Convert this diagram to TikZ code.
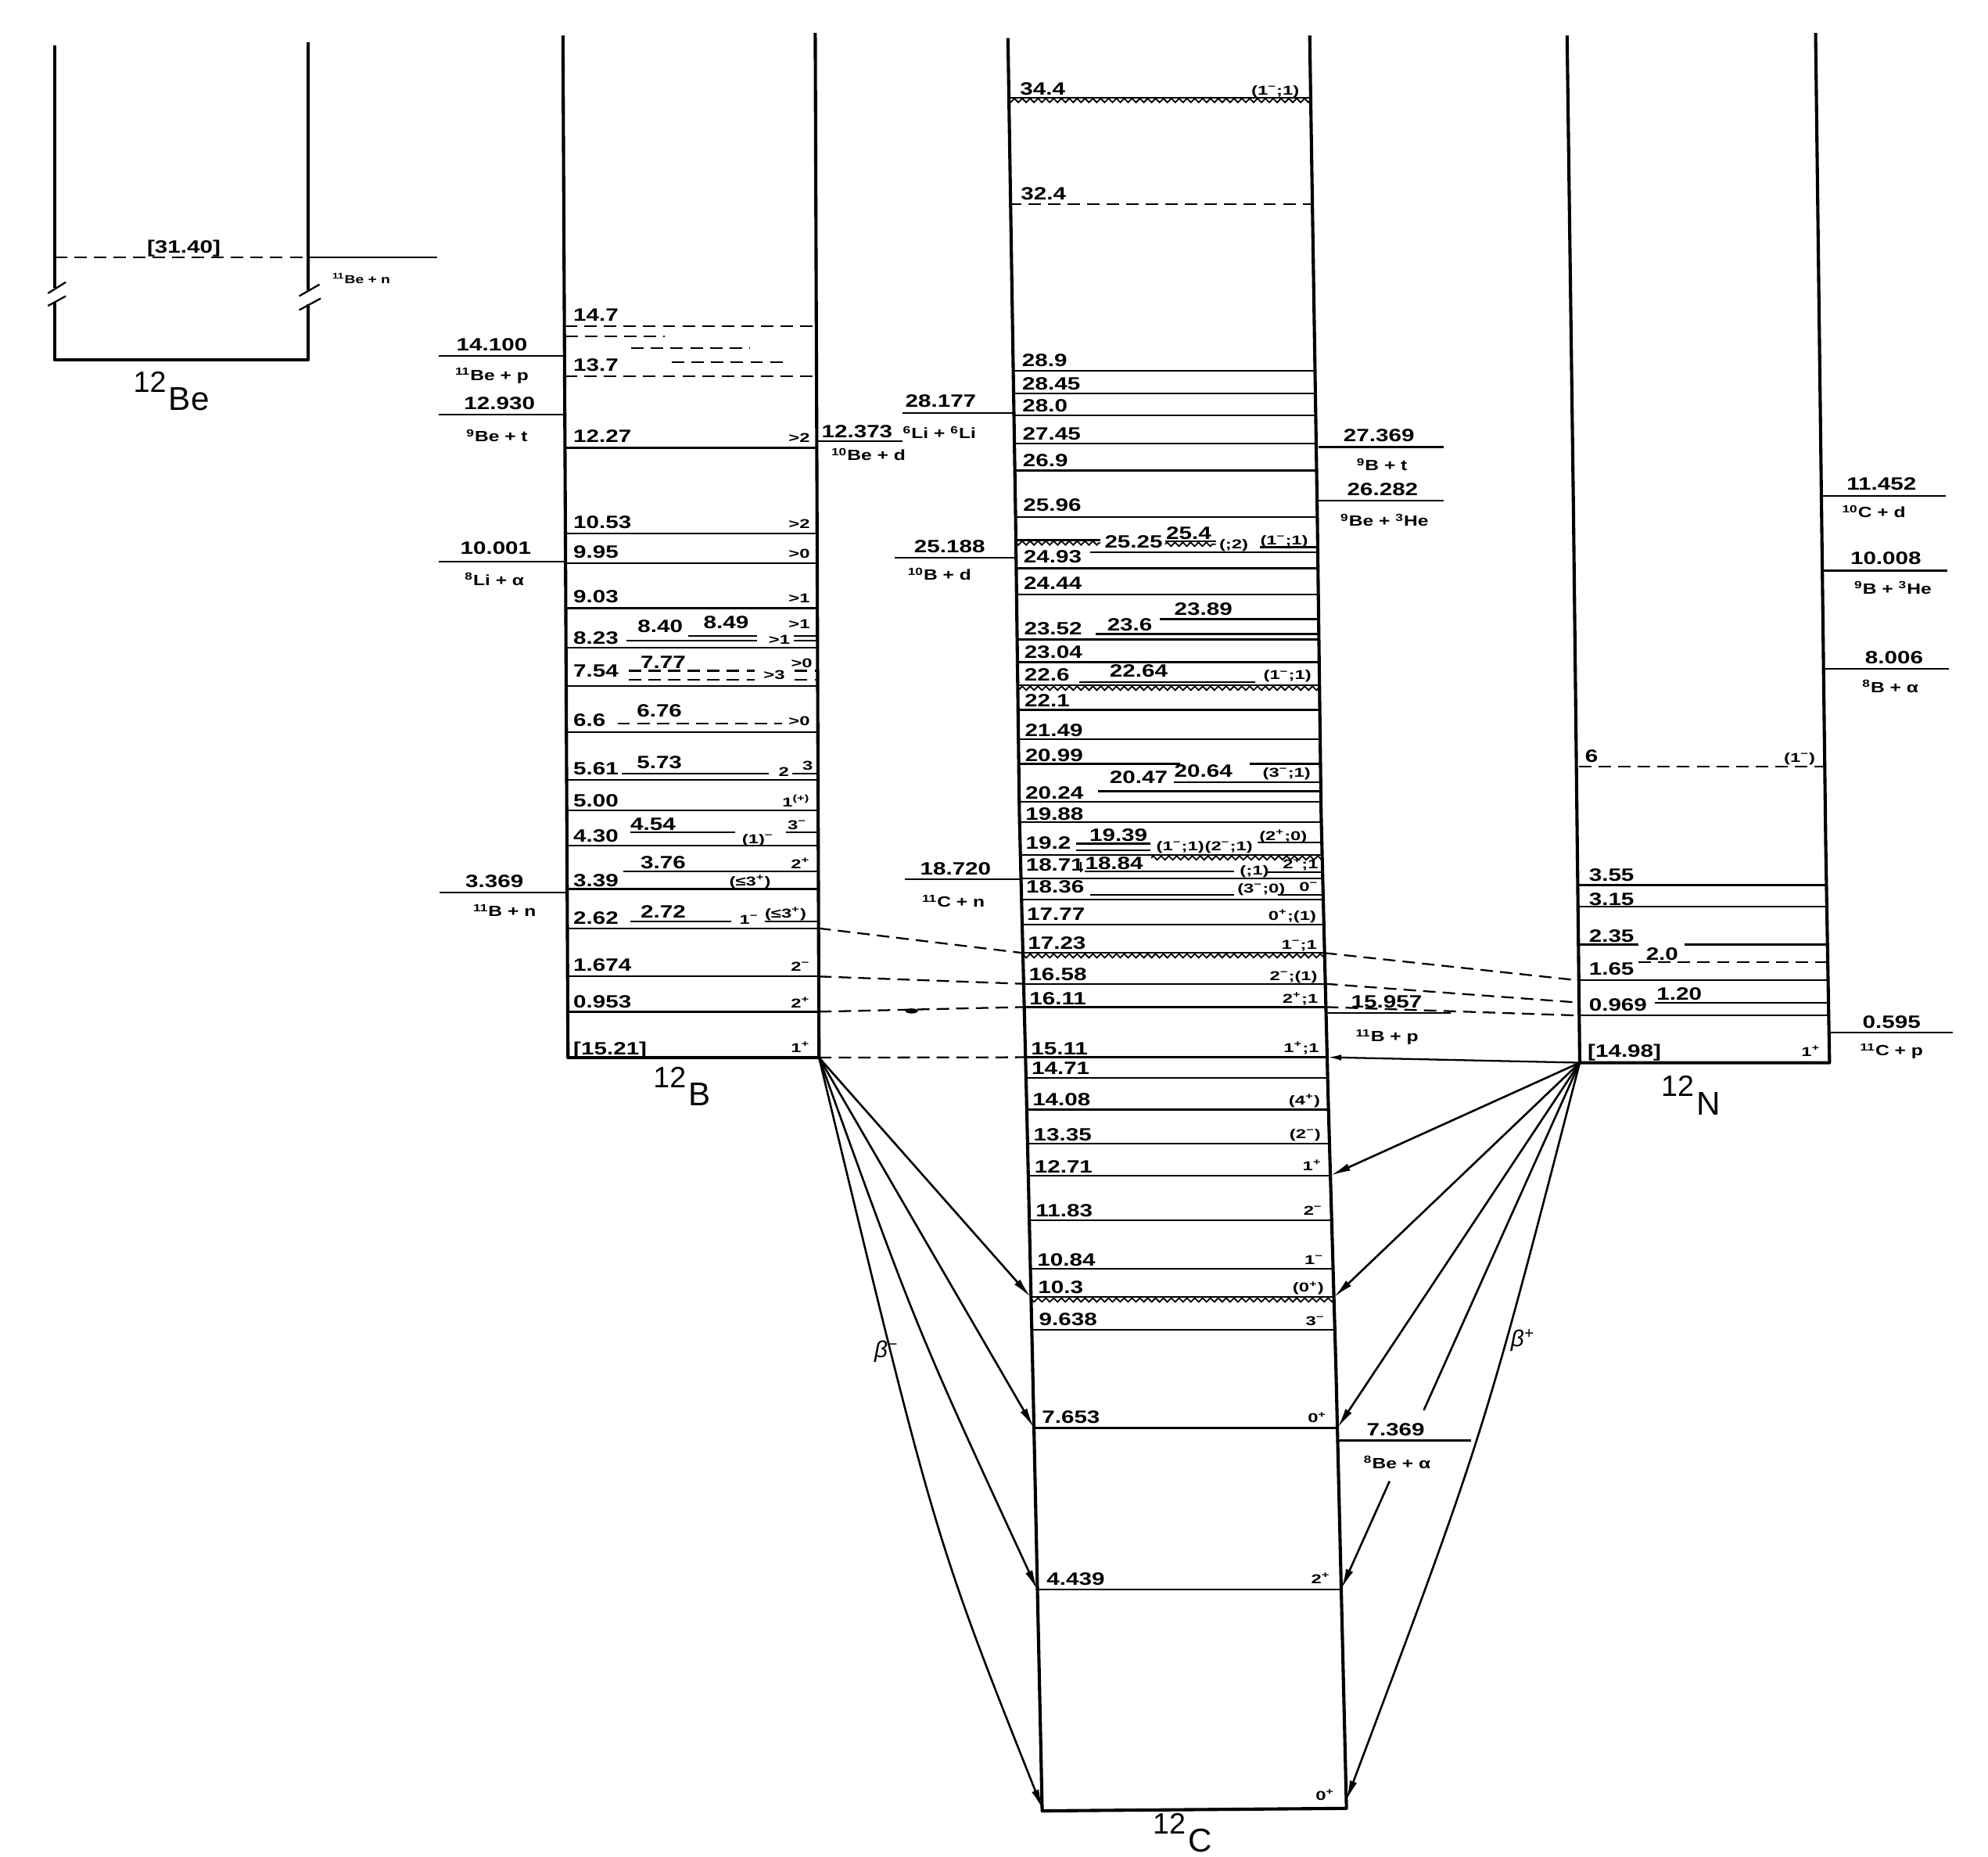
\documentclass[tikz,border=0pt]{standalone}
\usepackage{fontspec}
\setmainfont{Liberation Sans}
\newfontfamily\lf{Liberation Sans}[FakeStretch=1.3]
\newfontfamily\spf{Liberation Sans}[FakeStretch=1.45]
\usetikzlibrary{arrows.meta,decorations.pathmorphing}
\newcounter{nd}
\newcommand\su[1]{\textsuperscript{#1}}
\newcommand\sM{\su{−}}
\newcommand\sP{\su{+}}
\newcommand\TN[3][num]{\stepcounter{nd}\node[#1] (t\thend) at (#2) {#3};}
\newcommand\lbB[2]{\stepcounter{nd}\node[num] (t\thend) at (452,#1) {#2};}
\newcommand\spB[2]{\stepcounter{nd}\node[sp] (t\thend) at (639,#1) {#2};}
\newcommand\lbC[2]{\stepcounter{nd}\node[num] (t\thend) at ({#1<700 ? 804+0.0075*(#1-37) : 809+0.0297*(#1-700)},#1) {#2};}
\newcommand\spC[2]{\stepcounter{nd}\node[sp] (t\thend) at ({1024+0.0207*(#1-28)},#1) {#2};}
\newcommand\lnC[1]{\draw[lev] (780,#1) -- (1080,#1);}
\newcommand\wvC[1]{\draw[lev] (780,#1) -- (1080,#1);\draw[wv] (780,#1+2.2) -- (1080,#1+2.2);}
\newcommand\isolab[2]{{\fontsize{16.5}{16.5}\selectfont\raisebox{10.2pt}{#1}}\hspace{1.5pt}{\fontsize{18.5}{18.5}\selectfont #2}}
\tikzset{
 col/.style={line width=1.8pt, line join=round},
 lev/.style={line width=1.0pt},
 dl/.style={lev, dash pattern=on 7pt off 4pt},
 wv/.style={line width=0.8pt, decorate, decoration={zigzag, amplitude=1.1pt, segment length=4.4pt}},
 num/.style={font=\lf\bfseries\fontsize{10}{10}\selectfont, inner sep=0pt, anchor=base west},
 numc/.style={num, anchor=base},
 sp/.style={font=\spf\bfseries\fontsize{7.2}{7.2}\selectfont, inner sep=0pt, anchor=base east},
 spw/.style={sp, anchor=base west},
 rx/.style={font=\lf\bfseries\fontsize{8.3}{8.3}\selectfont, inner sep=0pt, anchor=base},
 rxs/.style={font=\lf\bfseries\fontsize{6.5}{6.5}\selectfont, inner sep=0pt, anchor=base west},
 iso/.style={inner sep=0pt, anchor=base west},
 beta/.style={font=\itshape\fontsize{13}{13}\selectfont, inner sep=0pt},
 ar/.style={line width=1.15pt, -{Latex[length=4mm,width=1.5mm]}},
 ars/.style={line width=1.0pt, -{Latex[length=2.6mm,width=1.2mm]}}
}
\begin{document}
\begin{tikzpicture}[x=0.25mm,y=-0.25mm]
\useasboundingbox (0,0) rectangle (1568,1464);

% ================= 12Be =================
\draw[col] (43,36) -- (43,227);
\draw[col] (43,239) -- (43,284) -- (243,284) -- (243,240);
\draw[col] (243,229) -- (243,33);
\draw[lev] (37.8,231.3) -- (51.9,222.5);
\draw[lev] (37.8,241.2) -- (51.9,233.5);
\draw[lev] (236,233.5) -- (252,224.3);
\draw[lev] (236,244.5) -- (253,235.3);
\draw[dl] (43,203) -- (243,203);
\draw[lev] (243,203) -- (345,203);
\TN[numc]{145,199.5}{[31.40]}
\TN[rxs]{262,223.6}{\su{11}Be + n}
\node[iso] (isoBe) at (105,323.8) {\isolab{12}{Be}};

% ================= 12B =================
\coordinate (B0) at (646,834);
\draw[col] (444,28) -- (448,834) -- (B0) -- (643,26);
\begin{scope}
\clip (444,28) -- (448,834) -- (646,834) -- (643,26) -- cycle;
\foreach \y in {353.2,420.5,444.1,479.5,510.9,540.8,577.4,614.8,639,666.6,701.1,732,770,797.8}
  \draw[lev] (430,\y) -- (660,\y);
\draw[dl] (430,257.4) -- (660,257.4);
\draw[dl] (446,265.2) -- (524,265.2);
\draw[dl] (498,274.5) -- (591,274.5);
\draw[dl] (530,285.4) -- (622,285.4);
\draw[dl] (430,296.5) -- (660,296.5);
\draw[lev] (543,501.7) -- (597,501.7);
\draw[lev] (494,505.4) -- (597,505.4);
\draw[lev] (626,501.7) -- (660,501.7);
\draw[lev] (626,505.4) -- (660,505.4);
\draw[dl] (496,529) -- (595,529);
\draw[dl] (496,536) -- (595,536);
\draw[dl] (627,529) -- (660,529);
\draw[dl] (627,536) -- (660,536);
\draw[dl] (487,570.6) -- (617,570.6);
\draw[lev] (490.6,610.2) -- (606.3,610.2);
\draw[lev] (625,610.2) -- (660,610.2);
\draw[lev] (497,656.3) -- (580,656.3);
\draw[lev] (620,656.3) -- (660,656.3);
\draw[lev] (491.6,687.1) -- (660,687.1);
\draw[lev] (497,726.8) -- (576.5,726.8);
\draw[lev] (603,726.8) -- (660,726.8);
\end{scope}
\lbB{253}{14.7}
\lbB{292.5}{13.7}
\lbB{349}{12.27} \spB{349}{>2}
\lbB{416.5}{10.53} \spB{416.5}{>2}
\lbB{440}{9.95} \spB{440}{>0}
\lbB{475.5}{9.03} \spB{475.5}{>1}
\lbB{508}{8.23} \TN{502.7,498.6}{8.40} \TN{554.6,495.5}{8.49} \spB{495.5}{>1} \TN[spw]{606,508}{>1}
\lbB{534}{7.54} \TN{505,527}{7.77} \TN[spw]{602,535.6}{>3} \TN[sp]{641,526.4}{>0}
\lbB{572.5}{6.6} \TN{502,565.4}{6.76} \spB{572}{>0}
\lbB{611}{5.61} \TN{502,606}{5.73} \TN[spw]{613.8,612}{2} \TN[spw]{632.7,607}{3}
\lbB{636}{5.00} \spB{636}{1\su{(+)}}
\lbB{664}{4.30} \TN{497,654.9}{4.54} \TN[spw]{585,665}{(1)\sM} \TN[spw]{621,654}{3\sM}
\lbB{699}{3.39} \TN{505,684.7}{3.76} \spB{684.7}{2\sP} \TN[spw]{575,698.5}{(≤3\sP)}
\lbB{729}{2.62} \TN{505,723.7}{2.72} \TN[spw]{583,729}{1\sM} \TN[spw]{603,724}{(≤3\sP)}
\lbB{766}{1.674} \spB{766}{2\sM}
\lbB{794.5}{0.953} \spB{794.5}{2\sP}
\lbB{831.5}{[15.21]} \spB{830}{1\sP}
\node[iso] (isoB) at (515,872) {\isolab{12}{B}};
% thresholds left of 12B
\draw[lev] (346,280.6) -- (446,280.6); \TN[numc]{388,276.5}{14.100} \TN[rx]{388,300}{\su{11}Be + p}
\draw[lev] (346,326.9) -- (446,326.9); \TN[numc]{394,322.8}{12.930} \TN[rx]{392,348.5}{\su{9}Be + t}
\draw[lev] (346,443.1) -- (446,443.1); \TN[numc]{391,437}{10.001} \TN[rx]{390,461.6}{\su{8}Li + α}
\draw[lev] (346.6,703.8) -- (447,703.8); \TN[numc]{390,700}{3.369} \TN[rx]{398,722.7}{\su{11}B + n}
% threshold right of 12B
\draw[lev] (645,348) -- (712,348); \TN[numc]{676,345}{12.373} \TN[rx]{685,363}{\su{10}Be + d}

% ================= 12C =================
\draw[col] (795,30) -- (801,407) -- (804,641) -- (809.6,864) -- (814.5,1079) -- (822,1428) -- (1062,1426) -- (1053.7,1079) -- (1047.5,864) -- (1042,641) -- (1039,407) -- (1033,28);
\begin{scope}
\clip (795,30) -- (801,407) -- (804,641) -- (809.6,864) -- (814.5,1079) -- (822,1428) -- (1062,1426) -- (1053.7,1079) -- (1047.5,864) -- (1042,641) -- (1039,407) -- (1033,28) -- cycle;
\wvC{77}
\draw[dl] (780,160.9) -- (1080,160.9);
\foreach \y in {292.4,310.1,327.4,349.8,371,407.5,448.2,468.8,504.2,522.2,559.7,582.9,632.2,648.1,692.5,709.4,728.9,775.8,794.1,833.7,850.2,874.9,901.6,927.3,962.3,1000.3,1048.6,1126.1,1253.5}
  \lnC{\y}
\draw[lev] (780,426) -- (868,426); \draw[wv] (780,428.2) -- (868,428.2);
\draw[lev] (919,427) -- (959,427); \draw[wv] (919,429.2) -- (959,429.2);
\draw[lev] (994,431.4) -- (1080,431.4);
\draw[lev] (860,435.5) -- (1080,435.5);
\draw[lev] (915,488.3) -- (1080,488.3);
\draw[lev] (864,500) -- (1080,500);
\draw[lev] (851,537.7) -- (990,537.7);
\wvC{540.5}
\draw[lev] (780,602.4) -- (930.5,602.4); \draw[lev] (985.7,602.4) -- (1080,602.4);
\draw[lev] (926,616.8) -- (1080,616.8);
\draw[lev] (866,624) -- (1080,624);
\draw[lev] (849,665.2) -- (907.4,665.2); \draw[lev] (849,670.7) -- (907.4,670.7);
\draw[lev] (992,664.5) -- (1080,664.5);
\draw[lev] (780,674) -- (1080,674); \draw[wv] (908,676.5) -- (1080,676.5);
\draw[lev] (855.6,687.2) -- (973.5,687.2); \draw[lev] (1000,687.8) -- (1080,687.8);
\draw[lev] (852.3,679.5) -- (852.3,687.8);
\draw[lev] (860,705.6) -- (973.5,705.6); \draw[lev] (1008,705.6) -- (1080,705.6);
\wvC{751.5}
\wvC{1022.9}
\end{scope}
\lbC{74.8}{34.4} \spC{74.8}{(1\sM;1)}
\lbC{157.4}{32.4}
\lbC{289.1}{28.9}
\lbC{307.3}{28.45}
\lbC{325}{28.0}
\lbC{347}{27.45}
\lbC{368}{26.9}
\lbC{403}{25.96}
\TN{871,431.8}{25.25} \TN{919.5,425.6}{25.4} \TN[spw]{961.4,432.8}{(;2)} \TN[sp]{1032,429.5}{(1\sM;1)}
\lbC{444}{24.93}
\lbC{464.7}{24.44}
\TN{926,485.2}{23.89}
\lbC{500.7}{23.52} \TN{873,497.6}{23.6}
\lbC{519.2}{23.04}
\lbC{537}{22.6} \TN{875,533.6}{22.64} \spC{536}{(1\sM;1)}
\lbC{557.2}{22.1}
\lbC{580.8}{21.49}
\lbC{600.4}{20.99}
\TN{926,612.7}{20.64} \TN[sp]{1034,612.7}{(3\sM;1)}
\TN{875,618}{20.47}
\lbC{630}{20.24}
\lbC{646.6}{19.88}
\TN{859,663.1}{19.39} \lbC{669.3}{19.2}
\TN[spw]{911.8,671}{(1\sM;1)} \TN[spw]{950,671}{(2\sM;1)} \TN[spw]{993,662.5}{(2\sP;0)}
\lbC{686.7}{18.71} \TN{855.6,685.7}{18.84} \TN[spw]{977.7,690}{(;1)} \TN[sp]{1040,685}{2\sP;1}
\lbC{704.2}{18.36} \TN[spw]{975.7,704}{(3\sM;0)} \TN[sp]{1040,703}{0\sM}
\lbC{725.8}{17.77} \spC{725.8}{0\sP;(1)}
\lbC{748.4}{17.23} \spC{748.4}{1\sM;1}
\lbC{773.1}{16.58} \spC{773.1}{2\sM;(1)}
\lbC{792.6}{16.11} \spC{791}{2\sP;1}
\lbC{831.7}{15.11} \spC{830}{1\sP;1}
\lbC{847.1}{14.71}
\lbC{871.8}{14.08} \spC{871}{(4\sP)}
\lbC{899.5}{13.35} \spC{898}{(2\sM)}
\lbC{925.2}{12.71} \spC{923}{1\sP}
\lbC{959.2}{11.83} \spC{958}{2\sM}
\lbC{998.2}{10.84} \spC{997}{1\sM}
\lbC{1019.8}{10.3} \spC{1019}{(0\sP)}
\lbC{1045.5}{9.638} \spC{1045}{3\sM}
\lbC{1122.4}{7.653} \spC{1122}{0\sP}
\lbC{1250}{4.439} \spC{1249}{2\sP}
\spC{1419.4}{0\sP}
\node[iso] (isoC) at (909,1460.5) {\isolab{12}{C}};
% thresholds of 12C
\draw[lev] (712,325.5) -- (800.6,325.5); \TN[numc]{742,321}{28.177} \TN[rx]{741,346}{\su{6}Li + \su{6}Li}
\draw[lev] (1039.8,352.6) -- (1138.5,352.6); \TN[numc]{1087.6,348.5}{27.369} \TN[rx]{1090,371}{\su{9}B + t}
\draw[lev] (1040,394.8) -- (1138.5,394.8); \TN[numc]{1090.5,390.7}{26.282} \TN[rx]{1092,415}{\su{9}Be + \su{3}He}
\draw[lev] (705.8,440) -- (801.5,440); \TN[numc]{749,435.9}{25.188} \TN[rx]{741,457.5}{\su{10}B + d}
\draw[lev] (713.5,693.3) -- (806.2,693.3); \TN[numc]{753.7,689.8}{18.720} \TN[rx]{752,715.5}{\su{11}C + n}
\draw[lev] (1045.9,798.8) -- (1144.5,798.8); \TN[numc]{1093.6,794.7}{15.957} \TN[rx]{1094,821.4}{\su{11}B + p}
\draw[lev] (1055.5,1135.9) -- (1160,1135.9); \TN[numc]{1100.8,1132.3}{7.369} \TN[rx]{1102,1158}{\su{8}Be + α}

% ================= 12N =================
\coordinate (N0) at (1246,838);
\draw[col] (1236,28) -- (1241,400) -- (N0) -- (1443,838) -- (1440,666) -- (1436,345) -- (1432,26);
\begin{scope}
\clip (1236,28) -- (1241,400) -- (1246,838) -- (1443,838) -- (1440,666) -- (1436,345) -- (1432,26) -- cycle;
\draw[dl] (1230,604.5) -- (1450,604.5);
\foreach \y in {698,715.1,773.1,800.8} \draw[lev] (1230,\y) -- (1450,\y);
\draw[lev] (1230,744.9) -- (1292.4,744.9); \draw[lev] (1328.6,744.9) -- (1450,744.9);
\draw[dl] (1292.4,758.7) -- (1450,758.7);
\draw[lev] (1305.4,790.6) -- (1450,790.6);
\end{scope}
\TN{1250,601.4}{6} \TN[sp]{1432,601}{(1\sM)}
\TN{1253,695}{3.55}
\TN{1253,714}{3.15}
\TN{1253,743}{2.35}
\TN{1298,757}{2.0}
\TN{1253,769}{1.65}
\TN{1306.4,788.5}{1.20}
\TN{1253,797}{0.969}
\TN{1252,833.7}{[14.98]} \TN[sp]{1436,833}{1\sP}
\node[iso] (isoN) at (1310,879) {\isolab{12}{N}};
\draw[lev] (1437,391.1) -- (1534.7,391.1); \TN[numc]{1484,386.6}{11.452} \TN[rx]{1478,408.1}{\su{10}C + d}
\draw[lev] (1438.5,449.9) -- (1535.8,449.9); \TN[numc]{1487.4,445.1}{10.008} \TN[rx]{1493,468.4}{\su{9}B + \su{3}He}
\draw[lev] (1439.5,527.4) -- (1537,527.4); \TN[numc]{1494,523.3}{8.006} \TN[rx]{1491,545.9}{\su{8}B + α}
\draw[lev] (1443,814.2) -- (1540.4,814.2); \TN[numc]{1492,811}{0.595} \TN[rx]{1492,832.7}{\su{11}C + p}

% ================= analog-state dashed links =================
\draw[dl] (645.5,732) -- (806.8,751.5);
\draw[dl] (646,770) -- (807.4,775.8);
\draw[dl] (646,797.8) -- (807.8,794.1);
\draw[dl] (646,834) -- (808.8,833.7);
\fill (719,797.2) ellipse (5 and 2);
\draw[dl] (1044.7,751.5) -- (1245.3,773.1);
\draw[dl] (1045.3,775.8) -- (1245.6,790.6);
\draw[dl] (1045.8,794.1) -- (1245.7,800.8);

% ================= beta decays =================
\coordinate (C103L) at (813,1023);
\coordinate (C7L) at (815.5,1126);
\coordinate (C4L) at (818.3,1254);
\coordinate (C0L) at (822.5,1427);
\coordinate (C1271R) at (1049.3,927);
\coordinate (C103R) at (1052.1,1023);
\coordinate (C7R) at (1054.8,1126);
\coordinate (C4R) at (1057.9,1253);
\coordinate (C0R) at (1061.8,1420);
\coordinate (C1511R) at (1047.5,833.7);
\coordinate (gapA) at (1123,1112);
\coordinate (gapB) at (1096,1168);
\draw[ar] (B0) -- (C103L);
\draw[ar] (B0) -- (C7L);
\draw[ar] (B0) .. controls (723,1048) .. (C4L);
\draw[ar] (B0) .. controls (737,1212) .. (C0L);
\draw[ar] (N0) -- (C1271R);
\draw[ar] (N0) -- (C103R);
\draw[ar] (N0) -- (C7R);
\draw[line width=1.15pt] (N0) -- (gapA);
\draw[ar] (gapB) -- (C4R);
\draw[ar] (N0) .. controls (1170,1132) .. (C0R);
\draw[ars] (N0) -- (C1511R);
\node[beta] (bm) at (699,1066) {β\su{−}};
\node[beta] (bp) at (1201,1057) {β\su{+}};
\end{tikzpicture}
\end{document}
